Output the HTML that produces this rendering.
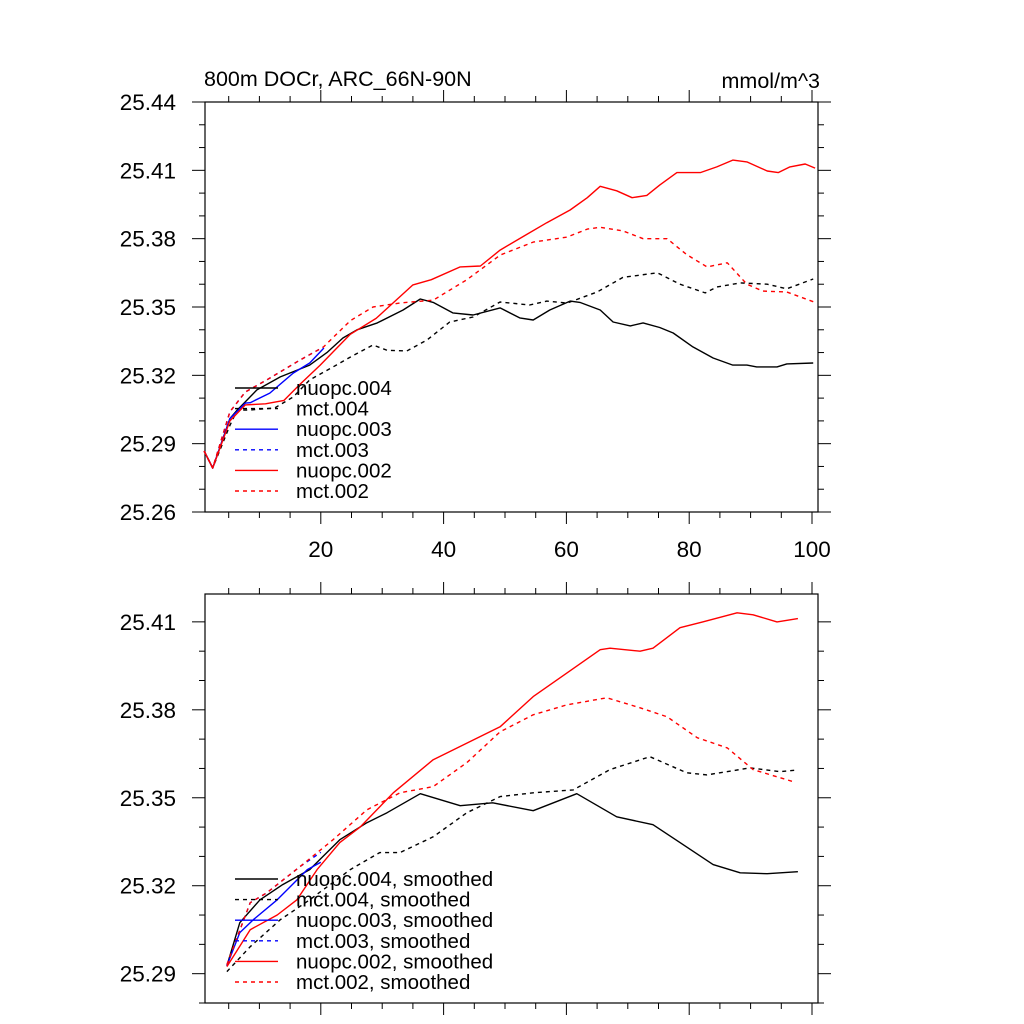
<!DOCTYPE html>
<html><head><meta charset="utf-8">
<style>
html,body{margin:0;padding:0;background:#fff;}
svg{display:block;font-family:"Liberation Sans",Arial,sans-serif;}
</style></head>
<body>
<svg id="chart" width="1024" height="1024" viewBox="0 0 1024 1024" xmlns="http://www.w3.org/2000/svg">
<text x="204" y="86" font-size="21.5">800m DOCr, ARC_66N-90N</text>
<text x="820" y="88" font-size="21.5" text-anchor="end">mmol/m^3</text>
<g id="top"></g>
<g id="bot"></g>
</svg>
<script>
// ---- top panel data ----
const topX_n002 = [1,2.4,5.2,7.7,11,14,16.6,19.9,24.8,29,35,38,42.7,46,49.2,53,56.8,60.6,63.4,65.5,68.2,70.7,73.1,75.2,78,81.8,84.5,87.1,89.4,92.7,94.5,96.4,98.9,100.5];
const topY_n002 = [25.2868,25.2793,25.300,25.307,25.3075,25.309,25.316,25.3245,25.338,25.345,25.3597,25.362,25.3676,25.368,25.375,25.381,25.387,25.3926,25.398,25.403,25.401,25.398,25.399,25.4035,25.409,25.409,25.4115,25.4145,25.4137,25.4097,25.409,25.4115,25.4128,25.411];
const topX_m002 = [1,2.4,5.2,7.7,11.2,16.6,20.4,24.8,28.5,33,38.3,43.8,49.2,54.6,60.1,63.4,65.5,69.2,72.5,76.4,79.6,82.9,86.2,89.4,92,95.9,100.5];
const topY_m002 = [25.2868,25.2793,25.304,25.3127,25.318,25.3267,25.3324,25.344,25.350,25.3518,25.353,25.362,25.3728,25.3785,25.3807,25.3842,25.385,25.3834,25.380,25.380,25.373,25.3676,25.3694,25.360,25.357,25.3566,25.352];
const topX_n004 = [1,2.4,5.2,6.4,9.6,13.4,18.2,21,23.6,25.9,29.2,33.4,36.2,38.3,41.5,44.8,49.2,52.4,54.6,57.3,60.6,62.2,65.5,67.6,70.4,72.5,75.2,77.4,80.6,83.9,87.1,89.4,91,94.3,95.9,100.2];
const topY_n004 = [25.2868,25.2793,25.301,25.3048,25.3136,25.3193,25.3245,25.330,25.3364,25.340,25.343,25.3487,25.3535,25.352,25.3474,25.3465,25.3496,25.3452,25.3443,25.3487,25.3526,25.352,25.3487,25.3434,25.3417,25.343,25.341,25.3386,25.3325,25.3276,25.3245,25.3245,25.3237,25.3237,25.325,25.3254];
const topX_m004 = [1,2.4,5.2,6.4,8.5,12.5,15.5,18.2,22,24.8,28.5,30.8,34,37.3,41,44.8,49.2,54,56.8,60.1,65,69.2,74.8,78.5,82.6,84.5,88.3,92.7,95.9,100.2];
const topY_m004 = [25.2868,25.2793,25.298,25.3048,25.3048,25.3057,25.3105,25.318,25.3237,25.328,25.3333,25.331,25.3307,25.3355,25.3434,25.3456,25.3522,25.3509,25.3526,25.3517,25.3566,25.363,25.365,25.360,25.3562,25.3588,25.3606,25.360,25.358,25.3623];
const topX_n003 = [1,2.4,5.2,7.7,8.5,11.7,15.5,18.2,20.5];
const topY_n003 = [25.2868,25.2793,25.301,25.3078,25.308,25.3122,25.321,25.3254,25.332];
const topX_m003 = [1,2.4,5.2,7.7,11.2,16.6,20.4];
const topY_m003 = [25.2868,25.2793,25.304,25.3127,25.318,25.3267,25.3324];
const topYTicks = ["25.26","25.29","25.32","25.35","25.38","25.41","25.44"];
const xTicks = ["20","40","60","80","100"];
const topLegend = ["nuopc.004","mct.004","nuopc.003","mct.003","nuopc.002","mct.002"];
// ---- bottom panel data (smoothed) ----
const botX_n002 = [4.7,8.5,12.9,16.1,19.4,23.1,26.4,31.8,38.3,49.2,54.6,60.1,65.5,67.1,72,74.1,78.5,82.2,87.8,90.4,94.3,97.7];
const botY_n002 = [25.2924,25.305,25.310,25.3152,25.3255,25.3347,25.340,25.3517,25.363,25.3742,25.3845,25.3926,25.4005,25.401,25.400,25.401,25.408,25.410,25.4131,25.4124,25.410,25.4111];
const botX_m002 = [4.7,8.5,11.2,16.6,22,27.5,32.9,38.3,43.8,49.2,54.6,60.1,66.6,72,76.4,81.3,86.2,90.4,96.9];
const botY_m002 = [25.2931,25.3142,25.3176,25.3265,25.3357,25.3459,25.3517,25.3538,25.362,25.3725,25.3783,25.3817,25.3841,25.3807,25.3776,25.3705,25.367,25.3596,25.3555];
const botX_n004 = [4.7,6.8,10.1,13.8,18.2,23.1,27.5,30.8,36.2,42.7,48,54.6,61.7,68.2,74.1,78.5,83.9,88.3,92.7,97.7];
const botY_n004 = [25.2927,25.3074,25.3152,25.3204,25.3255,25.3357,25.3415,25.3449,25.3514,25.3473,25.3483,25.3456,25.3514,25.3435,25.3408,25.3347,25.3272,25.3244,25.3241,25.3248];
const botX_m004 = [4.7,8.5,13.4,18.2,24.8,29.6,32.9,38.3,43.8,49.2,54.6,61.1,67.1,73.6,79.6,82.9,89.9,94.8,97.7];
const botY_m004 = [25.2907,25.2992,25.3084,25.3152,25.3255,25.3313,25.3313,25.3367,25.3449,25.3504,25.3517,25.3527,25.3596,25.364,25.3585,25.3578,25.3602,25.3589,25.3595];
const botX_n003 = [4.7,6.8,9,12.9,17.8,20];
const botY_n003 = [25.2927,25.304,25.3084,25.3152,25.3255,25.328];
const botX_m003 = [4.7,8.5,11.2,16.6,20];
const botY_m003 = [25.2931,25.3142,25.3176,25.3265,25.3314];
const botYTicks = ["25.29","25.32","25.35","25.38","25.41"];
const botLegend = ["nuopc.004, smoothed","mct.004, smoothed","nuopc.003, smoothed","mct.003, smoothed","nuopc.002, smoothed","mct.002, smoothed"];

const NS="http://www.w3.org/2000/svg";
const X0=205,X1=818;
function xs(v){return 198+6.14*v;}
function mk(parent,tag,attrs){const e=document.createElementNS(NS,tag);for(const k in attrs)e.setAttribute(k,attrs[k]);parent.appendChild(e);return e;}

function panel(g,top,bottom,ymin,ymax,yTicks,minorStep,showXLabels,series,legend,legY){
  const ys=v=>bottom-(v-ymin)/(ymax-ymin)*(bottom-top);
  const fr=mk(g,'rect',{x:X0,y:top,width:X1-X0,height:bottom-top,fill:'none',stroke:'#000','stroke-width':1.2});
  
  
  for(let v=5;v<=100;v+=5){
    const px=xs(v),L=(v%20===0)?12:6;
    const t1=mk(g,'line',{x1:px,x2:px,y1:bottom,y2:bottom+L,stroke:'#000','stroke-width':1});
    
    
    const t2=mk(g,'line',{x1:px,x2:px,y1:top,y2:top-L,stroke:'#000','stroke-width':1});
    
    
  }
  if(showXLabels){
    xTicks.forEach(s=>{
      const t=mk(g,'text',{x:xs(+s),y:bottom+45,'font-size':22.5,'text-anchor':'middle'});
      t.textContent=s;
      
      
    });
  }
  const n=Math.round((ymax-ymin)/minorStep);
  for(let i=0;i<=n+1;i++){
    const v=Math.round((ymin+i*minorStep)*1000)/1000;
    const py=ys(v); if(py<top-0.5)continue;
    const major=yTicks.includes(v.toFixed(2)); const L=major?13:6;
    const a=mk(g,'line',{x1:X0-L,x2:X0,y1:py,y2:py,stroke:'#000','stroke-width':1});
    
    
    const b=mk(g,'line',{x1:X1,x2:X1+L,y1:py,y2:py,stroke:'#000','stroke-width':1});
    
    
  }
  yTicks.forEach(s=>{
    const t=mk(g,'text',{x:176,y:ys(+s)+8,'font-size':22.5,'text-anchor':'end'});
    t.textContent=s;
    
    
  });
  series.forEach(s=>{
    const pts=s.x.map((v,i)=>xs(v).toFixed(1)+','+ys(s.y[i]).toFixed(1)).join(' ');
    const p=mk(g,'polyline',{points:pts,fill:'none',stroke:s.c,'stroke-width':1.4,'stroke-linejoin':'round'});
    if(s.d)p.setAttribute('stroke-dasharray','4 4');
    
    
  });
  const lc=[['#000',0],['#000',1],['#0000ff',0],['#0000ff',1],['#ff0000',0],['#ff0000',1]];
  legend.forEach((lab,i)=>{
    const y=legY+i*20.6;
    const l=mk(g,'line',{x1:235,x2:278,y1:y,y2:y,stroke:lc[i][0],'stroke-width':1.4});
    if(lc[i][1])l.setAttribute('stroke-dasharray','4 4');
    
    
    const t=mk(g,'text',{x:296,y:y+7,'font-size':20.5});
    t.textContent=lab;
    
    
  });
}
panel(document.getElementById('top'),102,512,25.26,25.44,topYTicks,0.01,true,[
  {n:'mct-003',x:topX_m003,y:topY_m003,c:'#0000ff',d:1},
  {n:'mct-004',x:topX_m004,y:topY_m004,c:'#000',d:1},
  {n:'nuopc-004',x:topX_n004,y:topY_n004,c:'#000',d:0},
  {n:'nuopc-003',x:topX_n003,y:topY_n003,c:'#0000ff',d:0},
  {n:'nuopc-002',x:topX_n002,y:topY_n002,c:'#ff0000',d:0},
  {n:'mct-002',x:topX_m002,y:topY_m002,c:'#ff0000',d:1}
],topLegend,388);
panel(document.getElementById('bot'),594,1003,25.28,25.4195,botYTicks,0.01,false,[
  {n:'mct-003-smoothed',x:botX_m003,y:botY_m003,c:'#0000ff',d:1},
  {n:'mct-004-smoothed',x:botX_m004,y:botY_m004,c:'#000',d:1},
  {n:'nuopc-004-smoothed',x:botX_n004,y:botY_n004,c:'#000',d:0},
  {n:'nuopc-003-smoothed',x:botX_n003,y:botY_n003,c:'#0000ff',d:0},
  {n:'nuopc-002-smoothed',x:botX_n002,y:botY_n002,c:'#ff0000',d:0},
  {n:'mct-002-smoothed',x:botX_m002,y:botY_m002,c:'#ff0000',d:1}
],botLegend,879);
</script>
</body></html>
